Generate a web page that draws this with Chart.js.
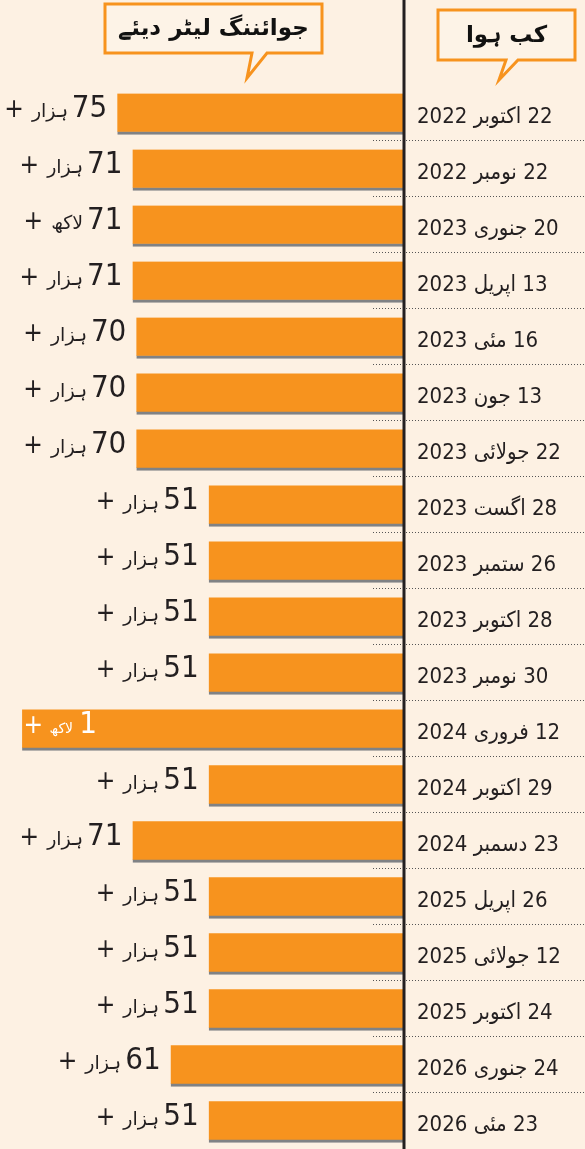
<!DOCTYPE html>
<html lang="ur">
<head>
    <meta charset="UTF-8">
    <script src="https://cdn.jsdelivr.net/npm/chart.js"></script>
    <style>
        body{
            margin: 0;
            background: #fdf1e3;
        }
        .wrap{
            width: 585px;
            height: 1149px;
            position: relative;
        }
    </style>
</head>
<body>
    <div class="wrap">
        <canvas id="barChart" dir="rtl"></canvas>
    </div>

    <script>
        // when the joining letters were given
        const dates = ['22 اکتوبر 2022', '22 نومبر 2022', '20 جنوری 2023', '13 اپریل 2023', '16 مئی 2023',
            '13 جون 2023', '22 جولائی 2023', '28 اگست 2023', '26 ستمبر 2023', '28 اکتوبر 2023',
            '30 نومبر 2023', '12 فروری 2024', '29 اکتوبر 2024', '23 دسمبر 2024', '26 اپریل 2025',
            '12 جولائی 2025', '24 اکتوبر 2025', '24 جنوری 2026', '23 مئی 2026'];
        // letters given, in thousands
        const letters = [75, 71, 71, 71, 70, 70, 70, 51, 51, 51, 51, 100, 51, 71, 51, 51, 51, 61, 51];
        // printed labels next to the bars
        const labelNums = ['75', '71', '71', '71', '70', '70', '70', '51', '51', '51', '51', '1', '51', '71', '51', '51', '51', '61', '51'];
        const labelUnits = ['ہزار', 'ہزار', 'لاکھ', 'ہزار', 'ہزار', 'ہزار', 'ہزار', 'ہزار', 'ہزار', 'ہزار',
            'ہزار', 'لاکھ', 'ہزار', 'ہزار', 'ہزار', 'ہزار', 'ہزار', 'ہزار', 'ہزار'];

        const orange = '#f7931e';
        const ink = '#231f20';
        const numFont = '"Liberation Sans Narrow", "DejaVu Sans Condensed", "DejaVu Sans", sans-serif';

        // number labels at the end of each bar
        const valueLabels = {
            id: 'valueLabels',
            afterDatasetsDraw(chart) {
                const ctx = chart.ctx;
                const bars = chart.getDatasetMeta(0).data;
                ctx.save();
                ctx.textBaseline = 'alphabetic';
                ctx.textAlign = 'right';
                bars.forEach(function (bar, i) {
                    const y = bar.y + 3;
                    if (letters[i] >= 100) {
                        // the long bar carries its label inside, in white
                        ctx.fillStyle = '#ffffff';
                        ctx.font = '31px ' + numFont;
                        ctx.fillText(labelNums[i], bar.x + 75, y);
                        ctx.font = '14px "DejaVu Sans", sans-serif';
                        ctx.fillText(labelUnits[i], bar.x + 51, y);
                        ctx.font = '26px ' + numFont;
                        ctx.fillText('+', bar.x + 21, y);
                        return;
                    }
                    let x = bar.x - 10;
                    ctx.fillStyle = ink;
                    ctx.font = '31px ' + numFont;
                    ctx.fillText(labelNums[i], x, y);
                    x -= ctx.measureText(labelNums[i]).width + 4;
                    ctx.font = '19px "DejaVu Sans", sans-serif';
                    ctx.fillText(labelUnits[i], x, y);
                    x -= ctx.measureText(labelUnits[i]).width + 8;
                    ctx.font = '26px ' + numFont;
                    ctx.fillText('+', x, y);
                });
                ctx.restore();
            }
        };

        // dotted separators, the axis line and the two callout headings
        const decorations = {
            id: 'decorations',
            afterDraw(chart) {
                const ctx = chart.ctx;
                const xs = chart.scales.x, ys = chart.scales.y;
                const axisX = xs.getPixelForValue(0);
                ctx.save();

                ctx.strokeStyle = '#555';
                ctx.lineWidth = 1;
                ctx.setLineDash([1, 2]);
                for (let i = 0; i < dates.length - 1; i++) {
                    const y = Math.round((ys.getPixelForValue(i) + ys.getPixelForValue(i + 1)) / 2) - 1.5;
                    ctx.beginPath();
                    ctx.moveTo(axisX - 30, y);
                    ctx.lineTo(chart.width, y);
                    ctx.stroke();
                }
                ctx.setLineDash([]);

                ctx.strokeStyle = ink;
                ctx.lineWidth = 3;
                ctx.beginPath();
                ctx.moveTo(axisX + 1, 0);
                ctx.lineTo(axisX + 1, chart.height);
                ctx.stroke();

                callout(ctx, 105, 4, 217, 49, 252, 267, 247, 78, 'جوائننگ لیٹر دیئے', 23);
                callout(ctx, 438, 10, 137, 50, 506, 518, 499, 80, 'کب ہوا', 23);
                ctx.restore();
            }
        };

        function callout(ctx, x, y, w, h, t1, t2, tipX, tipY, text, size) {
            ctx.lineWidth = 3;
            ctx.strokeStyle = orange;
            ctx.fillStyle = '#fdf3e7';
            ctx.beginPath();
            ctx.moveTo(x, y);
            ctx.lineTo(x + w, y);
            ctx.lineTo(x + w, y + h);
            ctx.lineTo(t2, y + h);
            ctx.lineTo(tipX, tipY);
            ctx.lineTo(t1, y + h);
            ctx.lineTo(x, y + h);
            ctx.closePath();
            ctx.fill();
            ctx.stroke();
            ctx.fillStyle = '#111';
            ctx.font = 'bold ' + size + 'px "DejaVu Sans", sans-serif';
            ctx.textAlign = 'center';
            ctx.textBaseline = 'middle';
            ctx.fillText(text, x + w / 2, y + h / 2 + 1);
        }

        const ctx = document.getElementById('barChart').getContext('2d');
        const myChart = new Chart(ctx, {
            type: 'bar',
            data: {
                labels: dates,
                datasets: [{
                    data: letters,
                    backgroundColor: orange,
                    borderColor: '#808285',
                    borderWidth: { top: 0, right: 0, bottom: 3, left: 0 },
                    borderSkipped: false,
                    barThickness: 41,
                    clip: false
                }]
            },
            options: {
                indexAxis: 'y',
                responsive: true,
                maintainAspectRatio: false,
                animation: false,
                layout: {
                    padding: { top: 114, bottom: 24, left: 0, right: 0 }
                },
                plugins: {
                    legend: { display: false },
                    tooltip: { enabled: false }
                },
                scales: {
                    x: {
                        display: false,
                        reverse: true,
                        min: 0,
                        max: 105.8
                    },
                    y: {
                        position: 'right',
                        offset: false,
                        grid: { display: false, drawTicks: false },
                        border: { display: false },
                        ticks: {
                            autoSkip: false,
                            crossAlign: 'near',
                            padding: 14,
                            labelOffset: 3,
                            color: ink,
                            font: { family: numFont, size: 22 }
                        },
                        afterFit(scale) {
                            scale.width = 182;
                        }
                    }
                }
            },
            plugins: [valueLabels, decorations]
        });
    </script>
</body>
</html>
